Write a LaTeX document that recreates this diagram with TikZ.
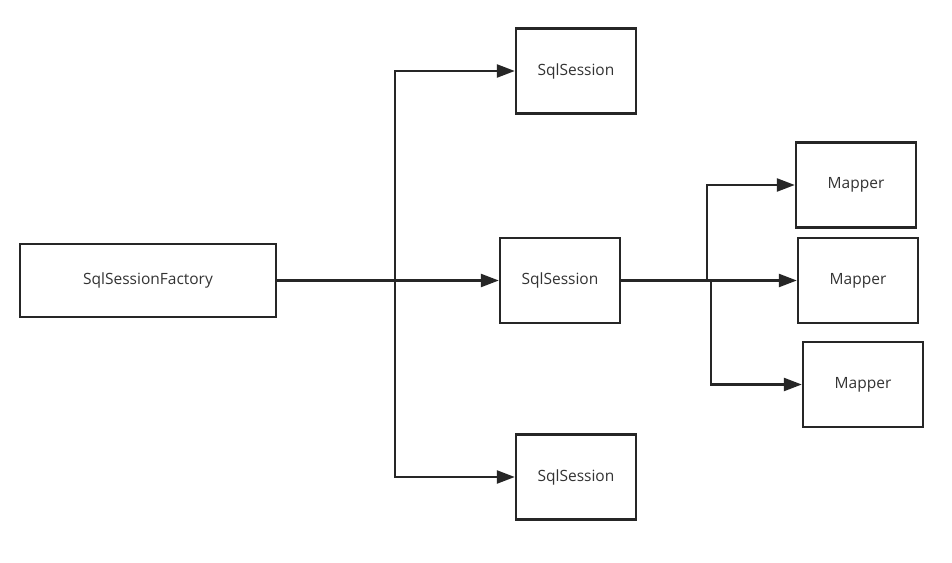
\documentclass[tikz,border=0pt]{standalone}
\usepackage{fontspec}
\setmainfont{Open Sans}
\usepackage{xcolor}
\usetikzlibrary{arrows.meta}

\definecolor{linegray}{HTML}{262626}
\definecolor{textgray}{HTML}{333333}

\begin{document}
\begin{tikzpicture}[
    x=1pt, y=-1pt,
    box/.style={draw=linegray, line width=2.4pt, text=textgray, font=\fontsize{15.5}{18}\selectfont,
      minimum width=120pt, minimum height=85pt, inner sep=0pt},
    arrow/.style={-{Triangle[length=18pt, width=13pt]}, draw=linegray, line width=2.4pt},
    link/.style={draw=linegray, line width=2.4pt}
  ]
    \useasboundingbox[fill=white] (0,0) rectangle (952,562);
    \node[box, minimum width=256pt, minimum height=73pt] (fac) at (148,280.5) {SqlSessionFactory};
    \node[box] (s1) at (576,71) {SqlSession};
    \node[box] (s2) at (560,280.5) {SqlSession};
    \node[box] (s3) at (576,477) {SqlSession};
    \node[box] (m1) at (856,185) {Mapper};
    \node[box] (m2) at (858,280.5) {Mapper};
    \node[box] (m3) at (863,384.5) {Mapper};
    \coordinate (j1) at (395,280.5);
    \coordinate (j2) at (707,280.5);
    \coordinate (j3) at (711,280.5);
    \draw[link] (fac.east) -- (j1);
    \draw[arrow] (j1) |- (s1.west);
    \draw[arrow] (j1) -- (s2.west);
    \draw[arrow] (j1) |- (s3.west);
    \draw[link] (s2.east) -- (j2);
    \draw[arrow] (j2) |- (m1.west);
    \draw[arrow] (j2) -- (m2.west);
    \draw[arrow] (j3) |- (m3.west);
  \end{tikzpicture}
\end{document}
